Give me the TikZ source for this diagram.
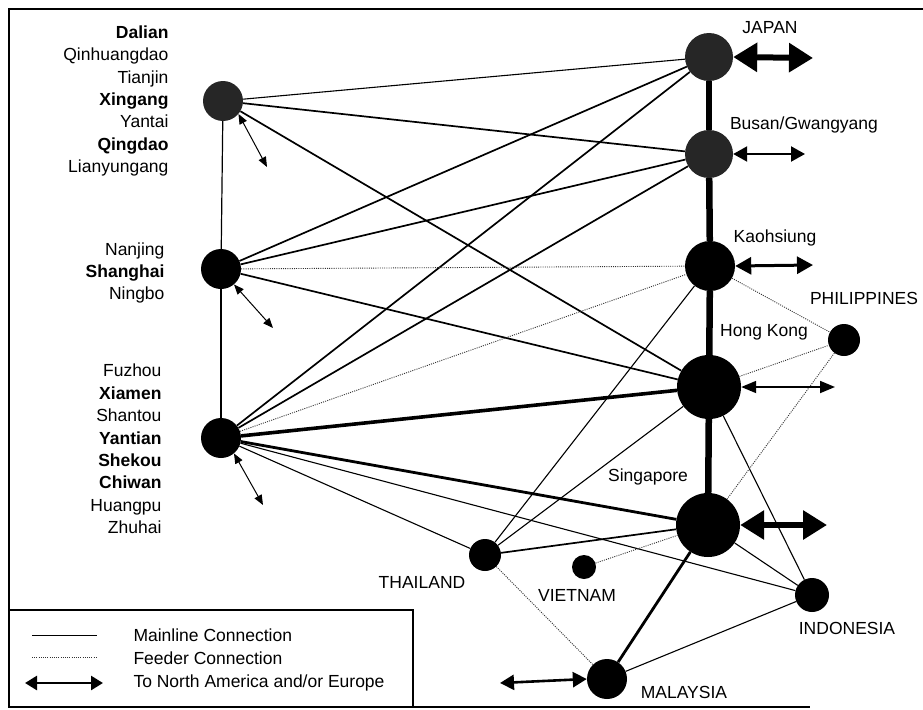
\documentclass[tikz,border=0pt]{standalone}
\usepackage{fontspec}
\setmainfont{Liberation Sans}
\usetikzlibrary{arrows.meta,positioning}
\tikzset{every node/.style={align=center}, font=\fontsize{17.5}{22.4}\selectfont}
\tikzset{
  hub/.style={circle, fill=black, inner sep=0pt},
  mainline/.style={line width=1.7pt},
  lightline/.style={line width=1.1pt},
  heavyline/.style={line width=3.6pt},
  feeder/.style={line width=0.9pt, black!80, dash pattern=on 1pt off 1.2pt},
  trunk/.style={line width=6.5pt},
  spine/.style={line width=1.2pt},
  bigtwoway/.style={line width=6pt, {Triangle[length=24pt,width=28pt]}-{Triangle[length=24pt,width=28pt]}},
  twoway/.style={line width=2.6pt, {Triangle[length=14pt,width=15pt]}-{Triangle[length=14pt,width=15pt]}},
  inland/.style={line width=1pt, {Triangle[length=10pt,width=8pt]}-{Triangle[length=10pt,width=8pt]}}
}

\begin{document}
\begin{tikzpicture}[x=1pt, y=-1pt]
\useasboundingbox (0,0) rectangle (923,709);
\draw[line width=1.2pt] (923,9) -- (9,9) -- (9,707) -- (810,707);
\draw[line width=1.2pt] (9,610) rectangle (413,707);

% ports
\node [hub, fill=black!85, minimum size=40pt] (xg) at (223,101) {};
\node [hub, minimum size=40pt] (sh) at (221,269) {};
\node [hub, minimum size=40pt] (yt) at (221,438) {};
\node [hub, fill=black!85, minimum size=48pt] (jp) at (709,57) {};
\node [hub, fill=black!85, minimum size=48pt] (bu) at (709,154) {};
\node [hub, minimum size=50pt] (ks) at (710,266) {};
\node [hub, minimum size=64pt] (hk) at (709,387) {};
\node [hub, minimum size=64pt] (sg) at (708,525) {};
\node [hub, minimum size=32pt] (ph) at (844,340) {};
\node [hub, minimum size=32pt] (th) at (485,555) {};
\node [hub, minimum size=24pt] (vn) at (584,567) {};
\node [hub, minimum size=34pt] (id) at (812,595) {};
\node [hub, minimum size=40pt] (my) at (607,679) {};

\node [anchor=east, align=right] (northports) at (172,101) {\textbf{Dalian}\\Qinhuangdao\\Tianjin\\\textbf{Xingang}\\Yantai\\\textbf{Qingdao}\\Lianyungang};
\node [anchor=east, align=right] (midports) at (168,273) {Nanjing\\\textbf{Shanghai}\\Ningbo};
\node [anchor=east, align=right] (southports) at (165,449) {Fuzhou\\\textbf{Xiamen}\\Shantou\\\textbf{Yantian}\\\textbf{Shekou}\\\textbf{Chiwan}\\Huangpu\\Zhuhai};

\node (jptext) at (770,28) {JAPAN};
\node (butext) at (804,125) {Busan/Gwangyang};
\node (kstext) at (775,238) {Kaohsiung};
\node (phtext) at (864,298) {PHILIPPINES};
\node (hktext) at (764,332) {Hong Kong};
\node (sgtext) at (648,477) {Singapore};
\node (thtext) at (422,582) {THAILAND};
\node (vntext) at (577,595) {VIETNAM};
\node (idtext) at (847,628) {INDONESIA};
\node (mytext) at (684,692) {MALAYSIA};

\path[spine] (xg) edge (sh) (sh) edge (yt);
\path[trunk] (jp) edge (bu) (bu) edge (ks) (ks) edge (hk) (hk) edge (sg);

\path[mainline] (xg) edge (bu) edge (hk)
    (sh) edge (jp) edge (bu) edge (hk)
    (yt) edge (jp) edge (bu)
    (th) edge (sg);
\path[lightline] (xg) edge (jp)
    (yt) edge (th) edge (id)
    (ks) edge (th)
    (hk) edge (th) edge (id)
    (sg) edge (id)
    (my) edge (id);
\path[heavyline] (yt) edge (hk);
\path[heavyline, line width=2.8pt] (yt) edge (sg) (sg) edge (my);
\path[feeder] (sh) edge (ks)
    (yt) edge (ks)
    (ks) edge (ph)
    (hk) edge (ph)
    (ph) edge (sg)
    (vn) edge (sg)
    (th) edge (my);

% links to north america / europe
\coordinate (jpout) at (813,58);
\coordinate (buout) at (805,154);
\coordinate (ksout) at (813,265);
\coordinate (hkout) at (835,387);
\coordinate (sgout) at (827,525);
\coordinate (myout) at (500,683);
\draw[bigtwoway] (jp.east) -- (jpout);
\draw[twoway, line width=2.2pt] (bu.east) -- (buout);
\draw[twoway, line width=3pt, {Triangle[length=16pt,width=17pt]}-{Triangle[length=16pt,width=17pt]}] (ks.east) -- (ksout);
\draw[twoway, line width=1.8pt, {Triangle[length=15pt,width=12pt]}-{Triangle[length=15pt,width=12pt]}] (hk.east) -- (hkout);
\draw[bigtwoway] (sg.east) -- (sgout);
\draw[twoway] (my.west) -- (myout);

\coordinate (xgin) at (267,167);
\coordinate (shin) at (273,328);
\coordinate (ytin) at (263,505);
\draw[inland] (xg.-40) -- (xgin);
\draw[inland] (sh.-50) -- (shin);
\draw[inland] (yt.-50) -- (ytin);

% legend
\coordinate (ml1) at (32,635);
\coordinate (ml2) at (97,635);
\coordinate (fd1) at (32,657);
\coordinate (fd2) at (97,657);
\coordinate (tw1) at (25,683);
\coordinate (tw2) at (103,683);
\draw[line width=0.7pt] (ml1) -- (ml2);
\draw[feeder, line width=0.6pt] (fd1) -- (fd2);
\draw[twoway, {Triangle[length=12pt,width=14pt]}-{Triangle[length=12pt,width=14pt]}] (tw1) -- (tw2);
\node [anchor=west] (mltext) at (130,635) {Mainline Connection};
\node [anchor=west] (fdtext) at (130,658) {Feeder Connection};
\node [anchor=west] (twtext) at (130,683) {To North America and/or Europe};
\end{tikzpicture}
\end{document}
